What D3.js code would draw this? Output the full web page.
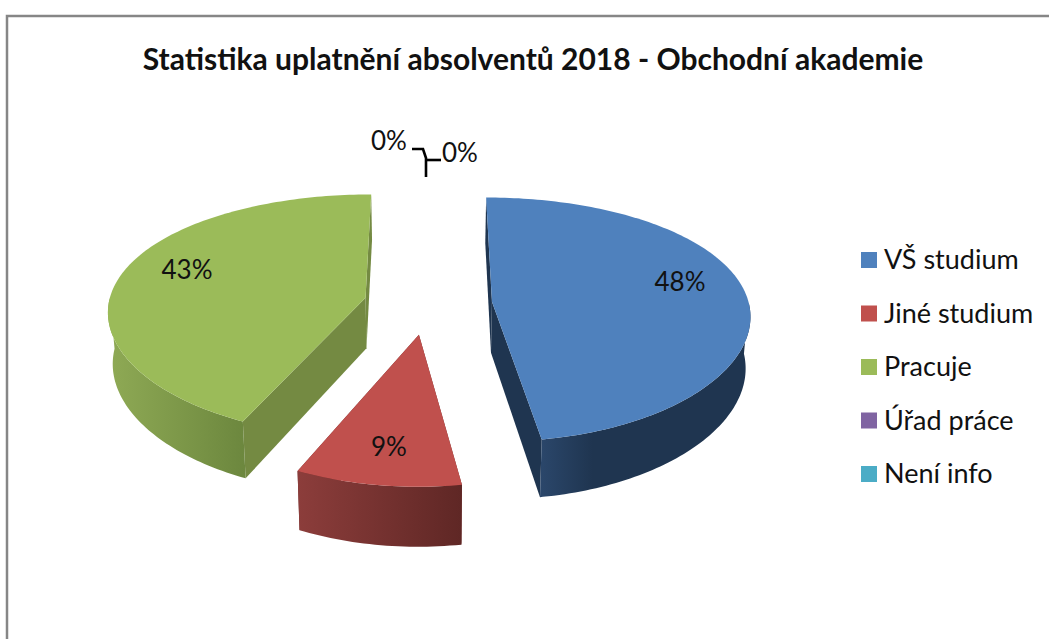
<!DOCTYPE html>
<html>
<head>
<meta charset="utf-8">
<script src="https://cdn.jsdelivr.net/npm/d3@7"></script>
<style>
  html, body { margin: 0; padding: 0; background: #fff; overflow: hidden; }
  text { font-family: Lato, "Noto Sans", sans-serif; fill: #111; }
</style>
</head>
<body>
<div id="chart"></div>
<script>
// chart values
const titleText = "Statistika uplatnění absolventů 2018 - Obchodní akademie";
const categories = ["VŠ studium", "Jiné studium", "Pracuje", "Úřad práce", "Není info"];
const percents = [47.6, 9.2, 43.2, 0, 0];
const topColors = ["#4f81bd", "#c0504d", "#9bbb59", "#8064a2", "#4bacc6"];
const wallLight = ["#2b476b", "#8c3d3b", "#8faa55", "#5e4a7a", "#37808f"];
const wallDark = ["#1f3550", "#5f2725", "#6c873e", "#4a3a60", "#2a6470"];
const cutColors = ["#1f3550", "#6e2d2b", "#748a42", "#4a3a60", "#2a6470"];

// where the labels sit
const labelAnchors = [[680, 282], [389, 447], [187, 270], [389, 141], [460, 153]];

const width = 1049;
const height = 639;

// pie geometry: unit circle seen in perspective
const cx = 428, cy = 304;
const explode = 0.25;
const perspY = 0.145;
const perspX = 0.1;
const xScale = d3.scaleLinear().domain([-1, 1]).range([cx - 257, cx + 257]);
const yScale = d3.scaleLinear().domain([-1, 1]).range([cy - 120, cy + 120]);
const depth = 51;

const svg = d3.select("#chart")
  .append("svg")
    .attr("width", width)
    .attr("height", height)
    .style("display", "block");

const defs = svg.append("defs");

// frame of the chart, runs off the page on the right and at the bottom
svg.append("path")
    .attr("d", `M7,${height + 5}V16H${width + 5}`)
    .attr("fill", "none")
    .attr("stroke", "#868686")
    .attr("stroke-width", 2.5);

svg.append("text")
    .attr("x", 533)
    .attr("y", 70)
    .attr("text-anchor", "middle")
    .attr("font-size", 30)
    .attr("font-weight", "bold")
    .text(titleText);

// u goes right, w goes to the viewer; bottom = true gives the lower plane
function project(u, w, bottom) {
  const px = xScale(u / (1 - perspX * w));
  const py = yScale(w / (1 - perspY * w));
  if (!bottom) return [px, py];
  return [cx + (px - cx) * 0.985, py + depth / (1 - 0.12 * w)];
}

const arcs = d3.pie().sort(null).startAngle(0).endAngle(2 * Math.PI)(percents);
const line = d3.line();

arcs.forEach((a, i) => {
  if (a.value === 0) return;

  const mid = (a.startAngle + a.endAngle) / 2;
  const du = explode * Math.sin(mid);
  const dw = -explode * Math.cos(mid);
  const rimPoint = (t, bottom) => project(du + Math.sin(t), dw - Math.cos(t), bottom);
  const apex = bottom => project(du, dw, bottom);

  const angles = d3.range(a.startAngle, a.endAngle, 0.02).concat(a.endAngle);

  const g = svg.append("g");

  // cut faces
  [a.startAngle, a.endAngle].forEach(t => {
    g.append("path")
        .attr("d", line([rimPoint(t, false), apex(false), apex(true), rimPoint(t, true)]) + "Z")
        .attr("fill", cutColors[i]);
  });

  // outer wall, front half only
  const front = angles.filter(t => -Math.cos(t) >= 0);
  const grad = defs.append("linearGradient").attr("id", "wall" + i);
  if (i === 0) {
    grad.append("stop").attr("offset", 0).attr("stop-color", wallLight[i]);
    grad.append("stop").attr("offset", 0.25).attr("stop-color", wallDark[i]);
  } else {
    grad.append("stop").attr("offset", 0).attr("stop-color", wallLight[i]);
  }
  grad.append("stop").attr("offset", 1).attr("stop-color", wallDark[i]);

  const wall = front.map(t => rimPoint(t, false))
    .concat(front.slice().reverse().map(t => rimPoint(t, true)));
  g.append("path")
      .attr("d", line(wall) + "Z")
      .attr("fill", `url(#wall${i})`);

  // top face
  const face = [apex(false)].concat(angles.map(t => rimPoint(t, false)));
  g.append("path")
      .attr("d", line(face) + "Z")
      .attr("fill", topColors[i]);
});

// leader lines of the two empty slices
svg.append("path")
    .attr("d", "M412,149H423L426,158V177")
    .attr("fill", "none")
    .attr("stroke", "#000")
    .attr("stroke-width", 2.6);
svg.append("path")
    .attr("d", "M441,160H427")
    .attr("fill", "none")
    .attr("stroke", "#000")
    .attr("stroke-width", 2.6);

// data labels
svg.selectAll(".pct")
  .data(percents)
  .join("text")
    .attr("class", "pct")
    .attr("x", (d, i) => labelAnchors[i][0])
    .attr("y", (d, i) => labelAnchors[i][1])
    .attr("dy", "0.35em")
    .attr("text-anchor", "middle")
    .attr("font-size", 26)
    .text(d => Math.round(d) + "%");

// legend
const legendY = d3.scalePoint().domain(categories).range([260, 474]);

const legend = svg.selectAll(".legend")
  .data(categories)
  .join("g")
    .attr("class", "legend")
    .attr("transform", d => `translate(861,${legendY(d)})`);

legend.append("rect")
    .attr("y", -8)
    .attr("width", 16)
    .attr("height", 16)
    .attr("fill", (d, i) => topColors[i]);

legend.append("text")
    .attr("x", 23)
    .attr("dy", "0.35em")
    .attr("font-size", 27)
    .text(d => d);
</script>
</body>
</html>
